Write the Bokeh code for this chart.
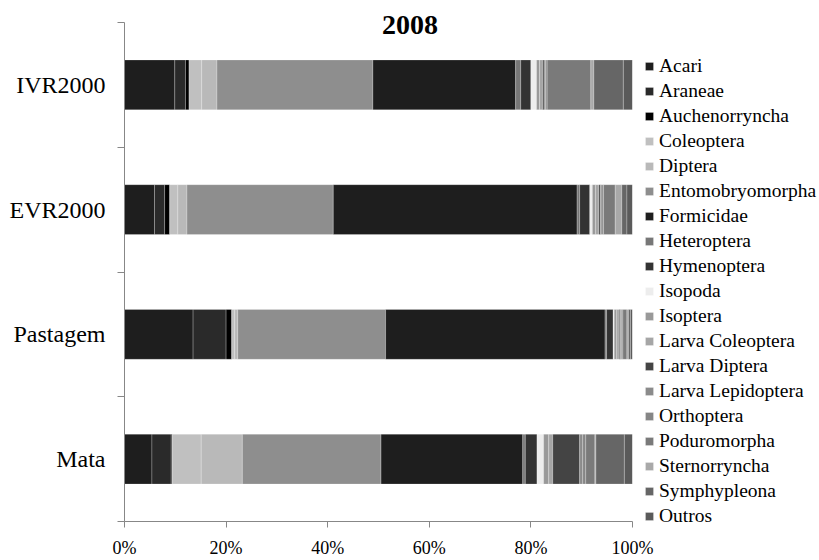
from bokeh.plotting import figure
from bokeh.models import (Range1d, LinearAxis, FixedTicker,
                          Legend, LegendItem, ColumnDataSource, Label)
from bokeh.embed import file_html
from bokeh.resources import INLINE

# ---------------- data ----------------
title_text = "2008"
categories = ["Mata", "Pastagem", "EVR2000", "IVR2000"]   # bottom -> top

groups = ["Acari", "Araneae", "Auchenorryncha", "Coleoptera", "Diptera",
          "Entomobryomorpha", "Formicidae", "Heteroptera", "Hymenoptera",
          "Isopoda", "Isoptera", "Larva Coleoptera", "Larva Diptera",
          "Larva Lepidoptera", "Orthoptera", "Poduromorpha", "Sternorryncha",
          "Symphypleona", "Outros"]

# percentages per category, order: Mata, Pastagem, EVR2000, IVR2000
Acari             = [5.4, 13.5, 5.9, 9.9]
Araneae           = [3.8, 6.5, 2.0, 2.1]
Auchenorryncha    = [0.2, 1.1, 1.0, 0.7]
Coleoptera        = [5.7, 0.6, 1.6, 2.5]
Diptera           = [8.1, 0.6, 1.8, 3.0]
Entomobryomorpha  = [27.3, 29.1, 28.8, 30.7]
Formicidae        = [27.9, 43.2, 48.0, 28.1]
Heteroptera       = [0.5, 0.3, 0.5, 1.0]
Hymenoptera       = [2.3, 1.3, 2.0, 2.0]
Isopoda           = [1.3, 0.2, 0.5, 1.1]
Isoptera          = [1.0, 0.5, 0.6, 0.6]
Larva_Coleoptera  = [0.8, 0.5, 0.7, 0.6]
Larva_Diptera     = [5.3, 0.2, 0.3, 0.3]
Larva_Lepidoptera = [0.6, 0.2, 0.3, 0.3]
Orthoptera        = [0.6, 0.3, 0.3, 0.3]
Poduromorpha      = [1.8, 0.8, 2.3, 8.6]
Sternorryncha     = [0.2, 0.3, 1.3, 0.6]
Symphypleona      = [5.6, 0.4, 1.0, 5.8]
Outros            = [1.6, 0.4, 1.1, 1.8]

series = [Acari, Araneae, Auchenorryncha, Coleoptera, Diptera, Entomobryomorpha,
          Formicidae, Heteroptera, Hymenoptera, Isopoda, Isoptera, Larva_Coleoptera,
          Larva_Diptera, Larva_Lepidoptera, Orthoptera, Poduromorpha, Sternorryncha,
          Symphypleona, Outros]

colors = ["#1e1e1e", "#2a2a2a", "#000000", "#c0c0c0", "#b9b9b9", "#8e8e8e",
          "#1e1e1e", "#777777", "#333333", "#ededed", "#999999", "#a6a6a6",
          "#444444", "#8b8b8b", "#868686", "#7a7a7a", "#a9a9a9", "#666666",
          "#5a5a5a"]

x_ticks = [0, 20, 40, 60, 80, 100]
x_tick_labels = ["0%", "20%", "40%", "60%", "80%", "100%"]

# ---------------- plot ----------------
FONT = "Liberation Serif"
AXIS_COLOR = "#878787"

n = len(categories)
centers = [i + 0.5 for i in range(n)]          # band centres on the numeric y scale
boundaries = list(range(n + 1))                # band edges
y_top = n * 521 / 499                          # headroom above the bands for the title

data = {"y": centers, "cat": categories}
for g, s in zip(groups, series):
    data[g] = s
source = ColumnDataSource(data)

p = figure(frame_width=508, frame_height=521, output_backend="svg", toolbar_location=None,
           y_range=Range1d(0, y_top), x_range=Range1d(0, 100),
           y_axis_location=None, x_axis_location=None,
           min_border_left=124, min_border_top=0, min_border_bottom=0,
           min_border_right=186)
p.grid.visible = False
p.outline_line_color = None

renderers = p.hbar_stack(groups, y="y", height=0.4, color=colors, source=source,
                         line_color="white", line_width=0.6, line_alpha=0.4)

y_axis = LinearAxis(ticker=FixedTicker(ticks=centers, minor_ticks=boundaries),
                    bounds=(0, n),
                    major_label_overrides=dict(zip(centers, categories)),
                    axis_line_color=AXIS_COLOR,
                    major_tick_line_color=None, major_tick_in=0, major_tick_out=0,
                    minor_tick_line_color=AXIS_COLOR, minor_tick_in=0, minor_tick_out=7,
                    major_label_standoff=12, major_label_text_font=FONT,
                    major_label_text_font_size="24px", major_label_text_color="black")
p.add_layout(y_axis, "left")

x_axis = LinearAxis(ticker=FixedTicker(ticks=x_ticks),
                    major_label_overrides=dict(zip(x_ticks, x_tick_labels)),
                    axis_line_color=AXIS_COLOR, major_tick_line_color=AXIS_COLOR,
                    major_tick_in=0, major_tick_out=6, minor_tick_line_color=None,
                    major_label_standoff=10, major_label_text_font=FONT,
                    major_label_text_font_size="18px", major_label_text_color="black")
p.add_layout(x_axis, "below")

title = Label(x=56.2, y=y_top - 24 / 124.75, text=title_text,
              text_font=FONT, text_font_size="28px", text_font_style="bold",
              text_align="center", text_baseline="alphabetic", text_color="black")
p.add_layout(title)

legend = Legend(items=[LegendItem(label=g, renderers=[r]) for g, r in zip(groups, renderers)],
                location=(12, -7), margin=0, padding=5, spacing=0,
                label_height=25, glyph_height=10, glyph_width=10, label_standoff=5,
                label_text_font=FONT, label_text_font_size="19.5px",
                label_text_color="black", border_line_color=None,
                background_fill_alpha=0)
p.add_layout(legend, "right")

open("out.html", "w").write(file_html(p, INLINE))
